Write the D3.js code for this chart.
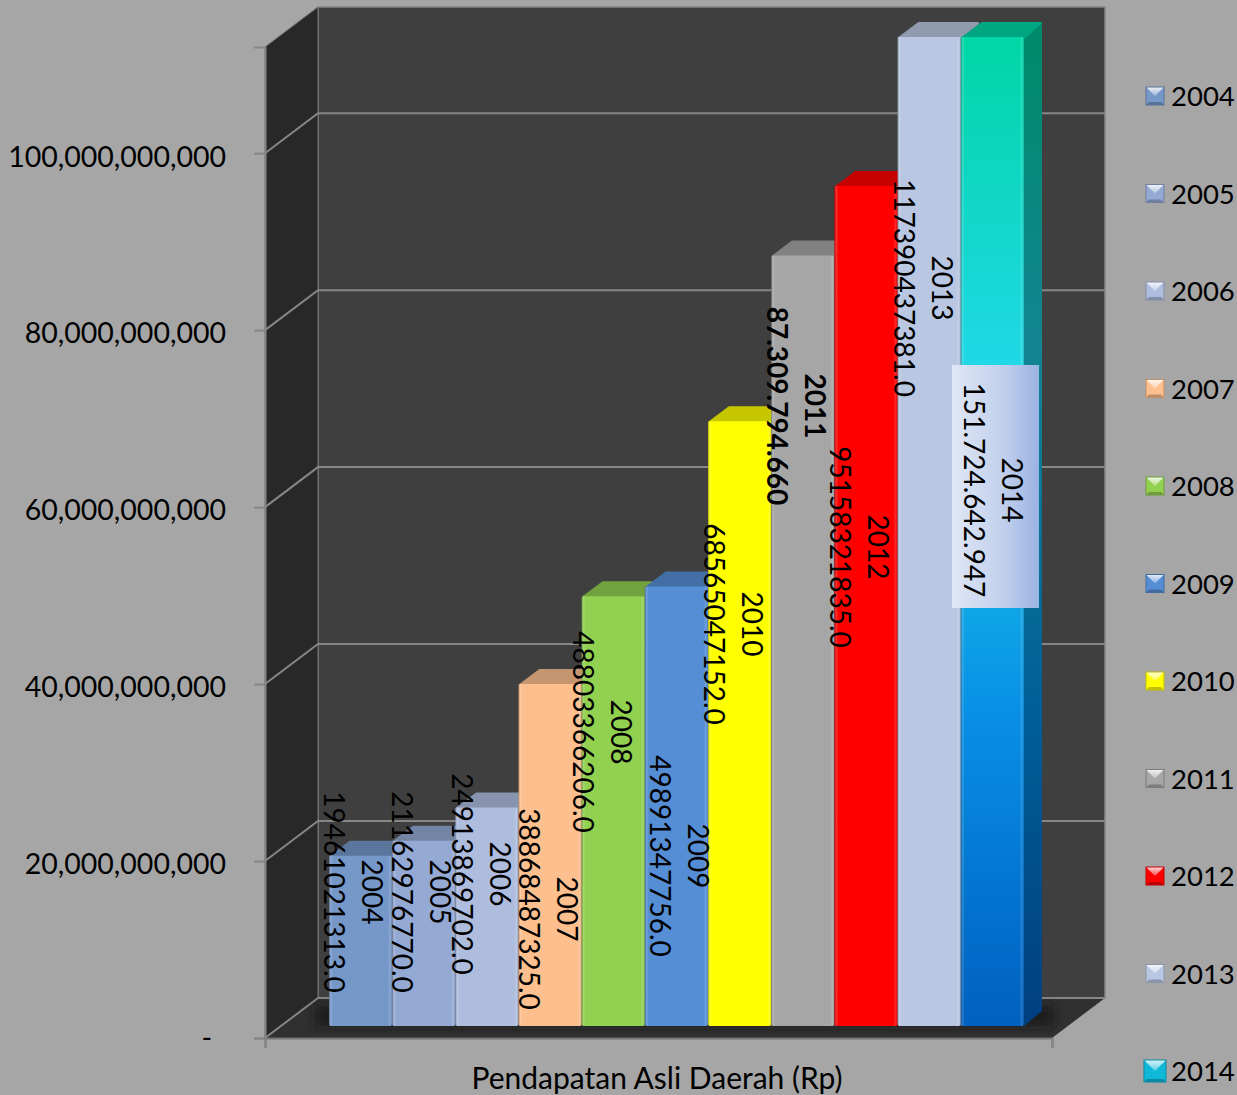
<!DOCTYPE html>
<html>
<head>
<meta charset="utf-8">
<script src="https://cdn.jsdelivr.net/npm/d3@7"></script>
<style>
  html, body { margin: 0; padding: 0; background: #a6a6a6; }
  svg { display: block; }
  text { font-family: Lato, "Open Sans", sans-serif; fill: #000; }
</style>
</head>
<body>
<div id="chart"></div>
<script>
const years = ['2004', '2005', '2006', '2007', '2008', '2009', '2010', '2011', '2012', '2013', '2014'];
const values = [19461021313, 21162976770, 24913869702, 38868487325, 48803366206, 49891347756,
    68565047152, 87309794660, 95158321835, 117390437381, 151724642947];
const valueLabels = ['19461021313.0', '21162976770.0', '24913869702.0', '38868487325.0', '48803366206.0',
    '49891347756.0', '68565047152.0', '87.309.794.660', '95158321835.0', '117390437381.0', '151.724.642.947'];
const tickValues = [0, 20e9, 40e9, 60e9, 80e9, 100e9];
const axisTitle = 'Pendapatan Asli Daerah (Rp)';

const barColors = ['#7598c9', '#94a9d3', '#aebdde', '#fcbf8d', '#92d050', '#558ed5',
    '#ffff00', '#a6a6a6', '#ff0000', '#b9c7e2', '#0fb8d8'];

// labels were dragged around by hand in the original: [x, y] of the value line centre
const labelSpots = [[334, 892], [402, 892], [462, 874], [529, 909], [583, 732], [660, 856],
    [714, 624], [777, 406], [840, 547], [904, 288], [974, 490]];

const W = 1237, H = 1095;
const depthX = 53, depthY = -40;   // wall depth
const barDX = 18, barDY = -15;     // bar depth
const baseGap = 12, topGap = 10;   // bar base and top sit this far above their axis position
const left = 265, right = 1052, zeroY = 1038;

const svg = d3.select('#chart').append('svg').attr('width', W).attr('height', H);
const defs = svg.append('defs');

// axis stops at about 112bn, the last two bars run past it and get cut
const y = d3.scaleLinear().domain([0, 112e9]).range([zeroY, 47]).clamp(true);
const x = d3.scaleBand().domain(years).range([329, 1024]);

const pts = a => a.map(p => p.join(',')).join(' ');

// walls
svg.append('polygon').attr('points', pts([[left + depthX, y.range()[1] + depthY], [right + depthX, y.range()[1] + depthY], [right + depthX, zeroY + depthY], [left + depthX, zeroY + depthY]]))
    .attr('fill', '#3f3f3f').attr('stroke', '#868686').attr('stroke-width', 1.5);
svg.append('polygon').attr('points', pts([[left, y.range()[1]], [left + depthX, y.range()[1] + depthY], [left + depthX, zeroY + depthY], [left, zeroY]]))
    .attr('fill', '#282828').attr('stroke', '#6e6e6e').attr('stroke-width', 1);
svg.append('polygon').attr('points', pts([[left, zeroY], [left + depthX, zeroY + depthY], [right + depthX, zeroY + depthY], [right, zeroY]]))
    .attr('fill', '#303030');

// gridlines
svg.append('g').selectAll('polyline')
    .data(tickValues)
    .join('polyline')
    .attr('points', d => pts([[left, y(d)], [left + depthX, y(d) + depthY], [right + depthX, y(d) + depthY]]))
    .attr('fill', 'none')
    .attr('stroke', '#868686')
    .attr('stroke-width', 2);

// shadow on the floor, behind the bars
defs.append('filter').attr('id', 'soft').attr('x', '-10%').attr('y', '-200%').attr('width', '120%').attr('height', '500%')
    .append('feGaussianBlur').attr('stdDeviation', 5);
svg.append('rect')
    .attr('x', x.range()[0] - 14).attr('y', zeroY - baseGap - 20)
    .attr('width', x.range()[1] - x.range()[0] + 44).attr('height', 20)
    .attr('fill', '#141414').attr('opacity', 0.75)
    .attr('filter', 'url(#soft)');

// gradients
const lastFront = defs.append('linearGradient').attr('id', 'lastFront').attr('x1', 0).attr('x2', 0).attr('y1', 0).attr('y2', 1);
[[0, '#00d6a6'], [0.33, '#20d8e6'], [0.68, '#0890e6'], [1, '#0060c0']].forEach(s =>
    lastFront.append('stop').attr('offset', s[0]).attr('stop-color', s[1]));
const lastSide = defs.append('linearGradient').attr('id', 'lastSide').attr('x1', 0).attr('x2', 0).attr('y1', 0).attr('y2', 1);
[[0, '#008a68'], [0.33, '#128594'], [0.68, '#005f98'], [1, '#003f80']].forEach(s =>
    lastSide.append('stop').attr('offset', s[0]).attr('stop-color', s[1]));
const bevel = defs.append('linearGradient').attr('id', 'bevel');
[[0, '#000', 0.28], [0.03, '#fff', 0.18], [0.06, '#fff', 0], [0.93, '#fff', 0], [0.97, '#fff', 0.16], [1, '#000', 0.12]].forEach(s =>
    bevel.append('stop').attr('offset', s[0]).attr('stop-color', s[1]).attr('stop-opacity', s[2]));
const boxFill = defs.append('linearGradient').attr('id', 'boxFill');
boxFill.append('stop').attr('offset', 0).attr('stop-color', '#e0e7f5');
boxFill.append('stop').attr('offset', 0.6).attr('stop-color', '#c0cfec');
boxFill.append('stop').attr('offset', 1).attr('stop-color', '#9bb3e3');
const swatchTop = defs.append('linearGradient').attr('id', 'swatchTop').attr('x1', 0).attr('x2', 0).attr('y1', 0).attr('y2', 1);
swatchTop.append('stop').attr('offset', 0).attr('stop-color', '#fff').attr('stop-opacity', 0.85);
swatchTop.append('stop').attr('offset', 1).attr('stop-color', '#fff').attr('stop-opacity', 0.3);

// bars, left to right so each one hides the side of the one before
const bars = svg.append('g').selectAll('g')
    .data(years.map((yr, i) => ({ yr, value: values[i], color: barColors[i], i })))
    .join('g');

const barTop = d => y(d.value) - topGap;
const barBase = y(0) - baseGap;

bars.append('polygon').attr('class', 'side')
    .attr('points', d => {
        const r = x(d.yr) + x.bandwidth(), t = barTop(d);
        return pts([[r, t], [r + barDX, t + barDY], [r + barDX, barBase + barDY], [r, barBase]]);
    })
    .attr('fill', d => d.yr === '2014' ? 'url(#lastSide)' : d3.color(d.color).darker(1));

bars.append('polygon').attr('class', 'top')
    .attr('points', d => {
        const l = x(d.yr), r = l + x.bandwidth(), t = barTop(d);
        return pts([[l + 1, t + 1], [l + barDX + 3, t + barDY + 1], [r + barDX - 1, t + barDY + 1], [r, t + 1]]);
    })
    .attr('fill', d => d.yr === '2014' ? '#00a582' : d3.color(d.color).darker(0.7))
    .attr('stroke', d => d.yr === '2014' ? '#00a582' : d3.color(d.color).darker(0.7))
    .attr('stroke-width', 2)
    .attr('stroke-linejoin', 'round');

bars.append('rect')
    .attr('x', d => x(d.yr))
    .attr('y', barTop)
    .attr('width', x.bandwidth())
    .attr('height', d => barBase - barTop(d))
    .attr('rx', 2)
    .attr('fill', d => d.yr === '2014' ? 'url(#lastFront)' : d.color);

bars.append('rect')
    .attr('x', d => x(d.yr))
    .attr('y', barTop)
    .attr('width', x.bandwidth())
    .attr('height', d => barBase - barTop(d))
    .attr('rx', 2)
    .attr('fill', 'url(#bevel)');

// axes
const yAxis = d3.axisLeft(y)
    .tickValues(tickValues)
    .tickSize(11)
    .tickPadding(28)
    .tickFormat(d => d === 0 ? '-' : d3.format(',')(d));

const yG = svg.append('g').attr('transform', 'translate(' + left + ',0)').call(yAxis);
yG.select('.domain').attr('stroke', '#868686').attr('stroke-width', 2);
yG.selectAll('.tick line').attr('stroke', '#868686').attr('stroke-width', 2);
yG.selectAll('.tick text')
    .style('font-size', '28.5px')
    .attr('dx', d => d === 0 ? -14 : 0)
    .attr('dy', d => d === 0 ? '0.35em' : '0.45em');

const xAxis = d3.axisBottom(d3.scaleLinear().domain([0, 1]).range([left, right]))
    .tickValues([0, 1])
    .tickSize(10)
    .tickFormat('');
const xG = svg.append('g').attr('transform', 'translate(0,' + zeroY + ')').call(xAxis);
xG.select('.domain').attr('stroke', '#747474').attr('stroke-width', 2);
xG.selectAll('.tick line').attr('stroke', '#868686').attr('stroke-width', 2);

svg.append('text')
    .attr('x', 657)
    .attr('y', 1089)
    .attr('text-anchor', 'middle')
    .style('font-size', '30px')
    .text(axisTitle);

// data labels, rotated: value line on the left, year line right of it
const lineGap = 38;
svg.append('rect')
    .attr('x', 952).attr('y', 365).attr('width', 87).attr('height', 243)
    .attr('fill', 'url(#boxFill)');

const labels = svg.append('g').selectAll('g')
    .data(years.map((yr, i) => ({ yr, text: valueLabels[i], spot: labelSpots[i] })))
    .join('g')
    .attr('transform', d => 'translate(' + d.spot[0] + ',' + d.spot[1] + ') rotate(90)')
    .style('font-size', '28px')
    .style('font-weight', d => d.yr === '2011' ? 'bold' : 'normal')
    .attr('text-anchor', 'middle');

labels.append('text').attr('dy', '0.35em').text(d => d.text);
labels.append('text').attr('dy', '0.35em').attr('y', -lineGap).text(d => d.yr);

// legend
const legendY = d3.scalePoint().domain(years).range([96, 1071]);
const legend = svg.append('g').selectAll('g')
    .data(years.map((yr, i) => ({ yr, color: barColors[i] })))
    .join('g')
    .attr('transform', d => 'translate(1155,' + legendY(d.yr) + ')');

legend.each(function (d) {
    const g = d3.select(this);
    const s = d.yr === '2014' ? 11 : 9;
    g.append('rect').attr('x', -s).attr('y', -s).attr('width', 2 * s).attr('height', 2 * s)
        .attr('fill', d.color);
    g.append('polygon').attr('points', pts([[-s, -s], [s, -s], [0, 0]])).attr('fill', 'url(#swatchTop)');
    g.append('polygon').attr('points', pts([[-s, s], [s, s], [s - 3, s - 3], [-s + 3, s - 3]]))
        .attr('fill', d3.color(d.color).darker(0.8));
    g.append('rect').attr('x', -s).attr('y', -s).attr('width', 2 * s).attr('height', 2 * s)
        .attr('fill', 'none').attr('stroke', d3.color(d.color).darker(0.8));
});

legend.append('text')
    .attr('x', 16)
    .attr('dy', '0.37em')
    .style('font-size', '27.5px')
    .text(d => d.yr);
</script>
</body>
</html>
